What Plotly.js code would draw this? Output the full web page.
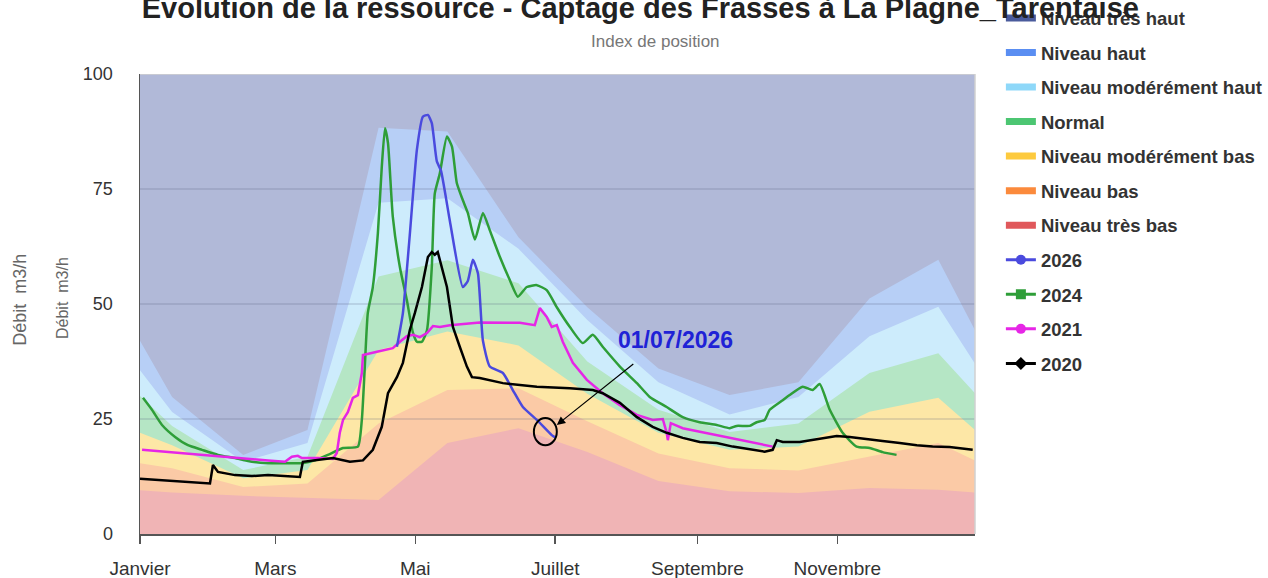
<!DOCTYPE html>
<html>
<head>
<meta charset="utf-8">
<script src="https://cdn.plot.ly/plotly-3.0.1.min.js"></script>
<style>html,body{margin:0;padding:0;background:#fff;}#chart{width:1268px;height:578px;}</style>
</head>
<body>
<div id="chart"></div>
<script>
// ---- Data (day of year, 0 = 1 January) ----
const monthTickDays = [0, 59, 120, 181, 243, 304];
const monthTickLabels = ['Janvier', 'Mars', 'Mai', 'Juillet', 'Septembre', 'Novembre'];

// band vertices (1 Jan, 15th of each month, 31 Dec)
const bandDays = [0, 14, 45, 73, 104, 134, 165, 195, 226, 257, 287, 318, 348, 364];
const bandTresHaut   = [100, 100, 100, 100, 100, 100, 100, 100, 100, 100, 100, 100, 100, 100];
const bandHaut       = [42, 29.8, 17.2, 22.6, 88.3, 87.5, 64.5, 49.3, 36, 30.2, 33, 51.2, 59.6, 44.3];
const bandModHaut    = [35.6, 26.5, 15.7, 19.8, 72, 73, 62, 46.5, 33, 26, 29.8, 43, 49.4, 37];
const bandNormal     = [30, 23.5, 13.9, 16.8, 56, 59.5, 54.5, 37.5, 27, 22.2, 24, 35, 39.3, 30.6];
const bandModBas     = [22, 19.3, 12.1, 13.9, 40, 44, 41, 30.5, 22, 18.3, 19, 26.6, 29.6, 22.6];
const bandBas        = [15.4, 14.3, 10.2, 11, 24, 31.3, 31.7, 24.5, 17.5, 14.3, 13.8, 16.8, 19.8, 16];
const bandTresBas    = [9.5, 9, 8.3, 7.8, 7.4, 19.8, 23, 17.8, 11.5, 9.3, 8.9, 10, 9.6, 9];

const days2026 = [112, 114.6, 117.6, 120.7, 123.3, 125.5, 127.2, 129.4, 131.2, 135.1, 140.7, 142.9, 145.1, 147.3, 149.5, 152.5, 158.2, 162.5, 166.9, 173, 179.5, 181];
const vals2026 = [40.7, 48, 65, 83.5, 90.7, 91.1, 89.3, 81, 79, 68, 53.7, 55, 59.6, 56.7, 42, 36.4, 35, 31.3, 27.6, 24.8, 21.5, 21];

const days2024 = [1.3, 5.2, 9.6, 15.3, 20.9, 27, 34, 41.4, 48.8, 55.8, 63.2, 70.6, 76.3, 81.9, 88.5, 95, 96.7, 98, 99.3, 101.5, 103.7, 105.4, 106.8, 108.1, 110.2, 113.3, 116.3, 119, 120.7, 122.9, 125.1, 127.2, 128.5, 130.7, 133.8, 136, 138.1, 140.7, 142.9, 146, 149.5, 152.5, 156.9, 161.2, 164.7, 168.6, 173, 177.3, 181.7, 187.4, 193, 197.4, 201.7, 209.2, 216.6, 222.2, 229.6, 236.6, 244, 251.4, 257.1, 260.1, 265.8, 268.8, 272.3, 274.5, 280.2, 283.2, 288.9, 293.2, 296.3, 300.7, 306.3, 312.4, 318.1, 323.7, 329.8];
const vals2024 = [29.6, 27, 23.7, 21.1, 19.3, 18.3, 17.2, 16.5, 15.7, 15.4, 15.4, 15.4, 16, 17.2, 18.7, 19, 24.8, 36.4, 48, 53.7, 65.4, 79.8, 88.2, 85, 69, 58, 50.9, 43.7, 41.8, 41.8, 44.3, 58, 74, 78.4, 86.4, 84.2, 76.3, 72.6, 69.8, 64, 69.8, 66, 60.2, 55.2, 51.6, 53.7, 54.1, 53, 49.3, 45, 41.5, 43.3, 40.7, 36.4, 32.8, 29.8, 27.6, 25.4, 24.3, 23.7, 23, 23.5, 23.5, 24.3, 24.8, 27, 29.1, 30.2, 32, 31.3, 32.6, 27, 22, 19, 18.7, 17.8, 17.2];

const days2021 = [0.9, 12.2, 27, 41.4, 55.8, 63.2, 66.2, 68.8, 70.6, 77.6, 84.1, 85.8, 87.1, 88.5, 90.6, 92.8, 95, 96.7, 97.2, 103.3, 107.6, 110.2, 113.3, 116.3, 119, 122, 125.1, 127.7, 130.7, 135.1, 148.1, 165.6, 172.1, 174.3, 177.3, 179.5, 181.7, 184.3, 188.7, 194.8, 201.7, 209.2, 216.6, 223.5, 227.9, 229.6, 230.1, 231.4, 236.6, 251.4, 265.8, 273.2, 275.8];
const vals2021 = [18.3, 17.8, 17.2, 16.5, 16, 15.7, 16.8, 17, 16.5, 16.5, 16.3, 17.6, 22, 24.8, 26.5, 29.6, 30.2, 35, 38.9, 39.6, 40.2, 40.4, 41.8, 43, 43.3, 42.8, 43.7, 45.2, 45, 45.4, 46, 45.9, 45.4, 49.1, 47.2, 45, 45.4, 41.8, 37.2, 33.5, 30.6, 28, 25.9, 24.8, 25, 22, 20.4, 24.1, 23, 21.5, 20, 19.3, 19];

const days2020 = [0, 12.2, 19.6, 30.5, 31.8, 34, 41.4, 48.8, 55.8, 63.2, 69.7, 71, 77.1, 84.1, 91.5, 97.2, 101.5, 105.4, 108.1, 112, 114.6, 117.6, 119.8, 122.9, 125.5, 127.2, 128.5, 129.8, 133.8, 136.4, 139.4, 142.5, 144.7, 148.1, 158.2, 173, 187.4, 197.4, 201.7, 209.2, 216.6, 223.5, 229.6, 236.6, 244, 251.4, 258.4, 265.8, 272.3, 275.8, 277.6, 280.2, 287.6, 295, 303.7, 309.4, 316.8, 323.7, 331.2, 338.6, 345.5, 352.9, 363];
const vals2020 = [12, 11.6, 11.4, 11, 15, 13.5, 12.8, 12.6, 12.8, 12.6, 12.4, 15.7, 16, 16.5, 15.7, 16, 18.3, 23.3, 30.6, 34.1, 37.2, 44.3, 48, 53.7, 60.2, 61.3, 60.7, 61.3, 53.7, 45, 40.7, 36.4, 34.1, 33.9, 32.8, 32, 31.7, 31.3, 30.6, 28.5, 25.4, 23.3, 22, 20.9, 20, 19.8, 19, 18.4, 17.9, 18.3, 20.4, 20, 20, 20.6, 21.3, 21.1, 20.6, 20.2, 19.8, 19.3, 19, 18.9, 18.3];

const bandNames = ['Niveau très haut', 'Niveau haut', 'Niveau modérément haut', 'Normal', 'Niveau modérément bas', 'Niveau bas', 'Niveau très bas'];
const yearNames = ['2026', '2024', '2021', '2020'];
const annotationDate = '01/07/2026';
const axisTitle = 'Débit  m3/h';

// ---- Styles ----
const FONT = 'Liberation Sans, Arial, sans-serif';
const bandFill = ['#b1b9d8', '#b7cff6', '#cdecfc', '#b5e6c5', '#fde7a6', '#fbcaa6', '#f0b4b5'];
const bandLegend = ['#4a5b9c', '#5a8ef2', '#8ed8f9', '#4cc672', '#fdca3e', '#fb8a3c', '#e0585b'];
const yearColor = ['#4a4ade', '#2e9e38', '#e626e6', '#000000'];
const yearSymbol = ['circle', 'square', 'circle', 'diamond'];
const yearShape = ['spline', 'spline', 'linear', 'linear'];

const bandSeries = [bandTresHaut, bandHaut, bandModHaut, bandNormal, bandModBas, bandBas, bandTresBas];
const traces = [];
bandSeries.forEach((s, i) => {
  traces.push({type: 'scatter', mode: 'lines', x: bandDays, y: s, fill: 'tozeroy',
    fillcolor: bandFill[i], line: {width: 0, color: bandFill[i]}, showlegend: false, hoverinfo: 'skip'});
});
const yearData = [[days2024, vals2024, 1], [days2021, vals2021, 2], [days2026, vals2026, 0], [days2020, vals2020, 3]];
yearData.forEach(([d, v, k]) => {
  traces.push({type: 'scatter', mode: 'lines', x: d, y: v,
    line: {color: yearColor[k], width: 2.5, shape: yearShape[k], smoothing: 0.5},
    showlegend: false, name: yearNames[k]});
});
// legend entries
bandNames.forEach((n, i) => {
  traces.push({type: 'scatter', mode: 'lines', x: [null], y: [null], name: n, legendgroup: 'b' + i,
    line: {color: bandLegend[i], width: 7}, showlegend: true});
});
yearNames.forEach((n, k) => {
  traces.push({type: 'scatter', mode: 'lines+markers', x: [null], y: [null], name: n, legendgroup: 'y' + k,
    line: {color: yearColor[k], width: 3}, marker: {color: yearColor[k], size: 10, symbol: yearSymbol[k]}, showlegend: true});
});

const gridShapes = [25, 50, 75].map(v => ({type: 'line', xref: 'paper', x0: 0, x1: 1, yref: 'y', y0: v, y1: v,
  line: {color: 'rgba(80,85,120,0.35)', width: 1}, layer: 'above'}));

const layout = {
  width: 1268, height: 578,
  margin: {l: 140, r: 293, t: 74, b: 44, autoexpand: false},
  paper_bgcolor: '#ffffff', plot_bgcolor: '#ffffff',
  font: {family: FONT, color: '#333'},
  title: {text: '<b>Evolution de la ressource - Captage des Frasses à La Plagne_Tarentaise</b>',
    x: 0.505, xref: 'container', xanchor: 'center', y: 0.9864, yref: 'container', yanchor: 'middle',
    font: {family: FONT, size: 29, color: '#222'}, automargin: false},
  xaxis: {range: [0, 364], tickmode: 'array', tickvals: monthTickDays, ticktext: monthTickLabels,
    showgrid: false, zeroline: false, showline: true, linecolor: '#555', linewidth: 1.5,
    ticks: 'outside', ticklen: 8, tickwidth: 1.5, tickcolor: '#555', ticklabelstandoff: 9,
    tickfont: {family: FONT, size: 19, color: '#333'}, fixedrange: true, automargin: false},
  yaxis: {range: [0, 100], tickmode: 'array', tickvals: [0, 25, 50, 75, 100],
    showgrid: false, zeroline: false, showline: true, linecolor: '#555', linewidth: 1.5,
    ticks: '', ticklabelstandoff: 22, tickfont: {family: FONT, size: 18, color: '#333'}, fixedrange: true, automargin: false},
  legend: {x: 1.031, xanchor: 'left', y: 1.1622, yanchor: 'top', bgcolor: 'rgba(0,0,0,0)', maxheight: 570,
    font: {family: FONT, size: 18.5, color: '#333', weight: 'bold'}, tracegroupgap: 7.5, itemclick: false, itemdoubleclick: false},
  shapes: gridShapes.concat([
    {type: 'line', xref: 'paper', x0: 0, x1: 1, yref: 'y', y0: 100, y1: 100, line: {color: '#d0d0d0', width: 1.5}, layer: 'above'},
    {type: 'line', xref: 'paper', x0: 1, x1: 1, yref: 'paper', y0: 0, y1: 1, line: {color: '#d0d0d0', width: 1.5}, layer: 'above'},
    {type: 'circle', xref: 'x', yref: 'y', x0: 171.7, x1: 181.7, y0: 19.3, y1: 25.2, line: {color: '#000', width: 2}, layer: 'above'}
  ]),
  annotations: [
    {text: 'Index de position', xref: 'paper', yref: 'paper', x: 0.6168, y: 1.0696, xanchor: 'center', yanchor: 'middle',
      showarrow: false, font: {family: FONT, size: 17, color: '#777'}},
    {text: axisTitle, xref: 'paper', yref: 'paper', x: -0.1437, y: 0.509, xanchor: 'center', yanchor: 'middle',
      textangle: -90, showarrow: false, font: {family: FONT, size: 18, color: '#666'}},
    {text: axisTitle, xref: 'paper', yref: 'paper', x: -0.0934, y: 0.513, xanchor: 'center', yanchor: 'middle',
      textangle: -90, showarrow: false, font: {family: FONT, size: 16, color: '#666'}},
    {text: '<b>' + annotationDate + '</b>', xref: 'x', yref: 'y', x: 233.6, y: 42.2, xanchor: 'center', yanchor: 'middle',
      showarrow: false, font: {family: FONT, size: 23, color: '#1f22d6'}},
    {text: '', xref: 'x', yref: 'y', x: 181.7, y: 23.7, axref: 'x', ayref: 'y', ax: 215.7, ay: 37.2,
      showarrow: true, arrowhead: 2, arrowsize: 1.4, arrowwidth: 1.2, arrowcolor: '#000', standoff: 0}
  ]
};

Plotly.newPlot('chart', traces, layout, {displayModeBar: false, staticPlot: true});
</script>
</body>
</html>
